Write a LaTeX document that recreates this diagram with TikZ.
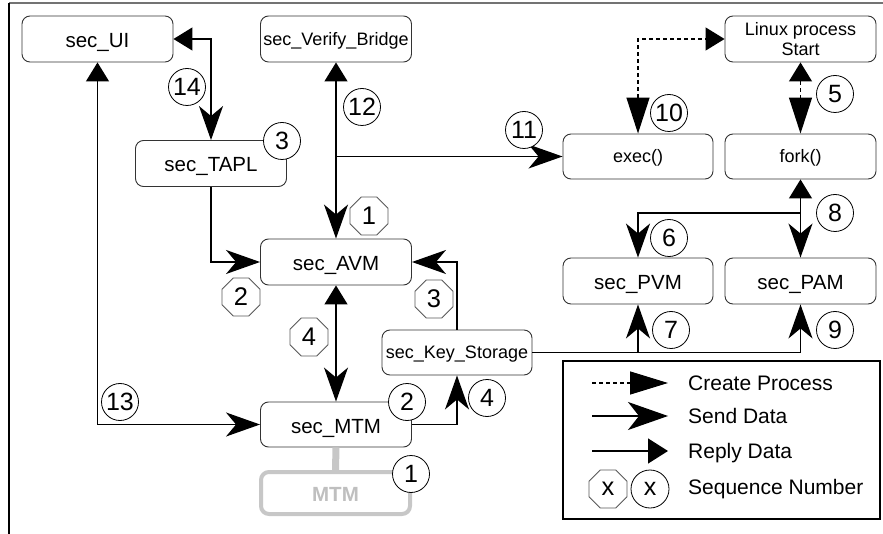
\documentclass[tikz,border=0pt]{standalone}
\usepackage{fontspec}
\setmainfont{Liberation Sans}
\usetikzlibrary{arrows.meta,shapes.geometric}

\tikzset{
  SendTip/.tip={Stealth[length=34pt,width=24pt,inset=10pt]},
  ReplyTip/.tip={Triangle[length=19pt,width=23pt]},
  ProcTip/.tip={Triangle[length=36pt,width=23pt]},
  box/.style={draw=black!80, line width=0.9pt, rounded corners=8pt, fill=white,
    inner sep=0pt, minimum width=151pt, minimum height=46pt,
    text height=17pt, text depth=0pt, font=\fontsize{20.5}{24}\selectfont},
  smallbox/.style={box, text height=13pt, font=\fontsize{18}{20}\selectfont},
  link/.style={line width=1.3pt, line join=miter},
  proc/.style={link, dash pattern=on 4pt off 3pt},
  seqc/.style={circle, draw=black, line width=0.8pt, fill=white, inner sep=0pt,
    minimum size=37pt, font=\fontsize{25}{25}\selectfont},
  seqo/.style={regular polygon, regular polygon sides=8, draw=black!65,
    line width=0.8pt, fill=white, inner sep=0pt, minimum size=41pt,
    font=\fontsize{25.5}{25}\selectfont},
  legtext/.style={anchor=base west, inner sep=0pt, font=\fontsize{21}{24}\selectfont},
}

\begin{document}
\begin{tikzpicture}[x=1pt, y=-1pt]
\useasboundingbox (0,0) rectangle (883,534);

% page frame
\draw[black!55, line width=1.2pt] (9,3) -- (883,3);
\draw[black, line width=1.5pt] (9,3) -- (9,534);

% modules
\node[box] (ui)   at (97.5,39)  {sec\_UI};
\node[smallbox] (vb) at (336,39) {sec\_Verify\_Bridge};
\node[smallbox, align=center, text height=33pt, text depth=0pt,
      font=\fontsize{18}{20}\selectfont] (linux) at (800.5,39) {Linux process\\Start};
\node[box] (tapl) at (211,163.5) {sec\_TAPL};
\node[smallbox, minimum width=150pt, minimum height=45pt] (exec) at (638,156.5) {exec()};
\node[smallbox, minimum height=45pt] (fork) at (800.5,156.5) {fork()};
\node[box] (avm)  at (336,262)  {sec\_AVM};
\node[box, minimum width=150pt] (pvm) at (638,281) {sec\_PVM};
\node[box] (pam)  at (800.5,281) {sec\_PAM};
\node[smallbox, minimum width=150pt, minimum height=45pt] (ks) at (457,352.5) {sec\_Key\_Storage};
\node[box, minimum height=45pt] (mtm) at (336,424.5) {sec\_MTM};
\node[box, draw=black!22, line width=4pt, text=black!25, font=\fontsize{20.5}{24}\selectfont\bfseries,
      minimum width=149pt, minimum height=42pt] (mtmg) at (335.5,493) {MTM};

% junctions
\coordinate (j11) at (336,156.5);
\coordinate (j8)  at (800.5,213);
\coordinate (j7)  at (638,352.5);

% connectors
\draw[black!22, line width=7pt] (mtm.south) -- (mtmg.north);
\draw[link, ReplyTip-SendTip] (ui.east) -| (tapl.north);
\draw[link, ReplyTip-SendTip] (ui.south) |- (mtm.west);
\draw[link, ReplyTip-SendTip] (vb.south) -- (avm.north);
\draw[link, -SendTip] (j11) -- (exec.west);
\draw[link, -SendTip] (tapl.south) |- (avm.west);
\draw[link, -SendTip] (ks.north) |- (avm.east);
\draw[link, ReplyTip-SendTip] (avm.south) -- (mtm.north);
\draw[link, -SendTip] (mtm.east) -| (ks.south);
\draw[proc, ProcTip-ReplyTip] (exec.north) |- (linux.west);
\draw[proc, ReplyTip-ProcTip] (linux.south) -- (fork.north);
\draw[link, ReplyTip-SendTip] (fork.south) -- (pam.north);
\draw[link, -SendTip] (j8) -| (pvm.north);
\draw[link, -SendTip] (ks.east) -| (pam.south);
\draw[link, -SendTip] (j7) -- (pvm.south);

% sequence numbers
\node[seqc] (c14) at (187,87)    {14};
\node[seqc] (c3)  at (282,141)   {3};
\node[seqc] (c12) at (362,107)   {12};
\node[seqc] (c11) at (524,130)   {11};
\node[seqc] (c10) at (669,113)   {10};
\node[seqc] (c5)  at (835,94)    {5};
\node[seqc] (c8)  at (835,213)   {8};
\node[seqc] (c6)  at (669,238)   {6};
\node[seqc] (c7)  at (671,330)   {7};
\node[seqc] (c9)  at (835,330)   {9};
\node[seqc] (c13) at (120,402)   {13};
\node[seqc] (c2)  at (407,402)   {2};
\node[seqc] (c4)  at (487,398)   {4};
\node[seqc] (c1)  at (411,474)   {1};
\node[seqo] (o1)  at (369,216)   {1};
\node[seqo] (o2)  at (241,297)   {2};
\node[seqo] (o3)  at (434,299)   {3};
\node[seqo] (o4)  at (309,337)   {4};

% legend
\node[draw=black, line width=1.3pt, inner sep=0pt, minimum width=317pt, minimum height=158pt] (legend) at (721.5,440) {};
\coordinate (l1a) at (592,383); \coordinate (l1b) at (668,383);
\coordinate (l2a) at (592,416); \coordinate (l2b) at (668,416);
\coordinate (l3a) at (592,451); \coordinate (l3b) at (668,451);
\draw[proc, -{Triangle[length=38pt,width=23pt]}] (l1a) -- (l1b);
\draw[link, -{Stealth[length=40pt,width=28pt,inset=11pt]}] (l2a) -- (l2b);
\draw[link, -{Triangle[length=20pt,width=25pt]}] (l3a) -- (l3b);
\node[legtext] (t1) at (688,390.5) {Create Process};
\node[legtext] (t2) at (688,423.5) {Send Data};
\node[legtext] (t3) at (688,458.5) {Reply Data};
\node[seqo] (lo) at (608,489) {x};
\node[seqc, minimum size=38pt] (lc) at (650,489) {x};
\node[legtext] (t4) at (688,494.5) {Sequence Number};
\end{tikzpicture}
\end{document}
